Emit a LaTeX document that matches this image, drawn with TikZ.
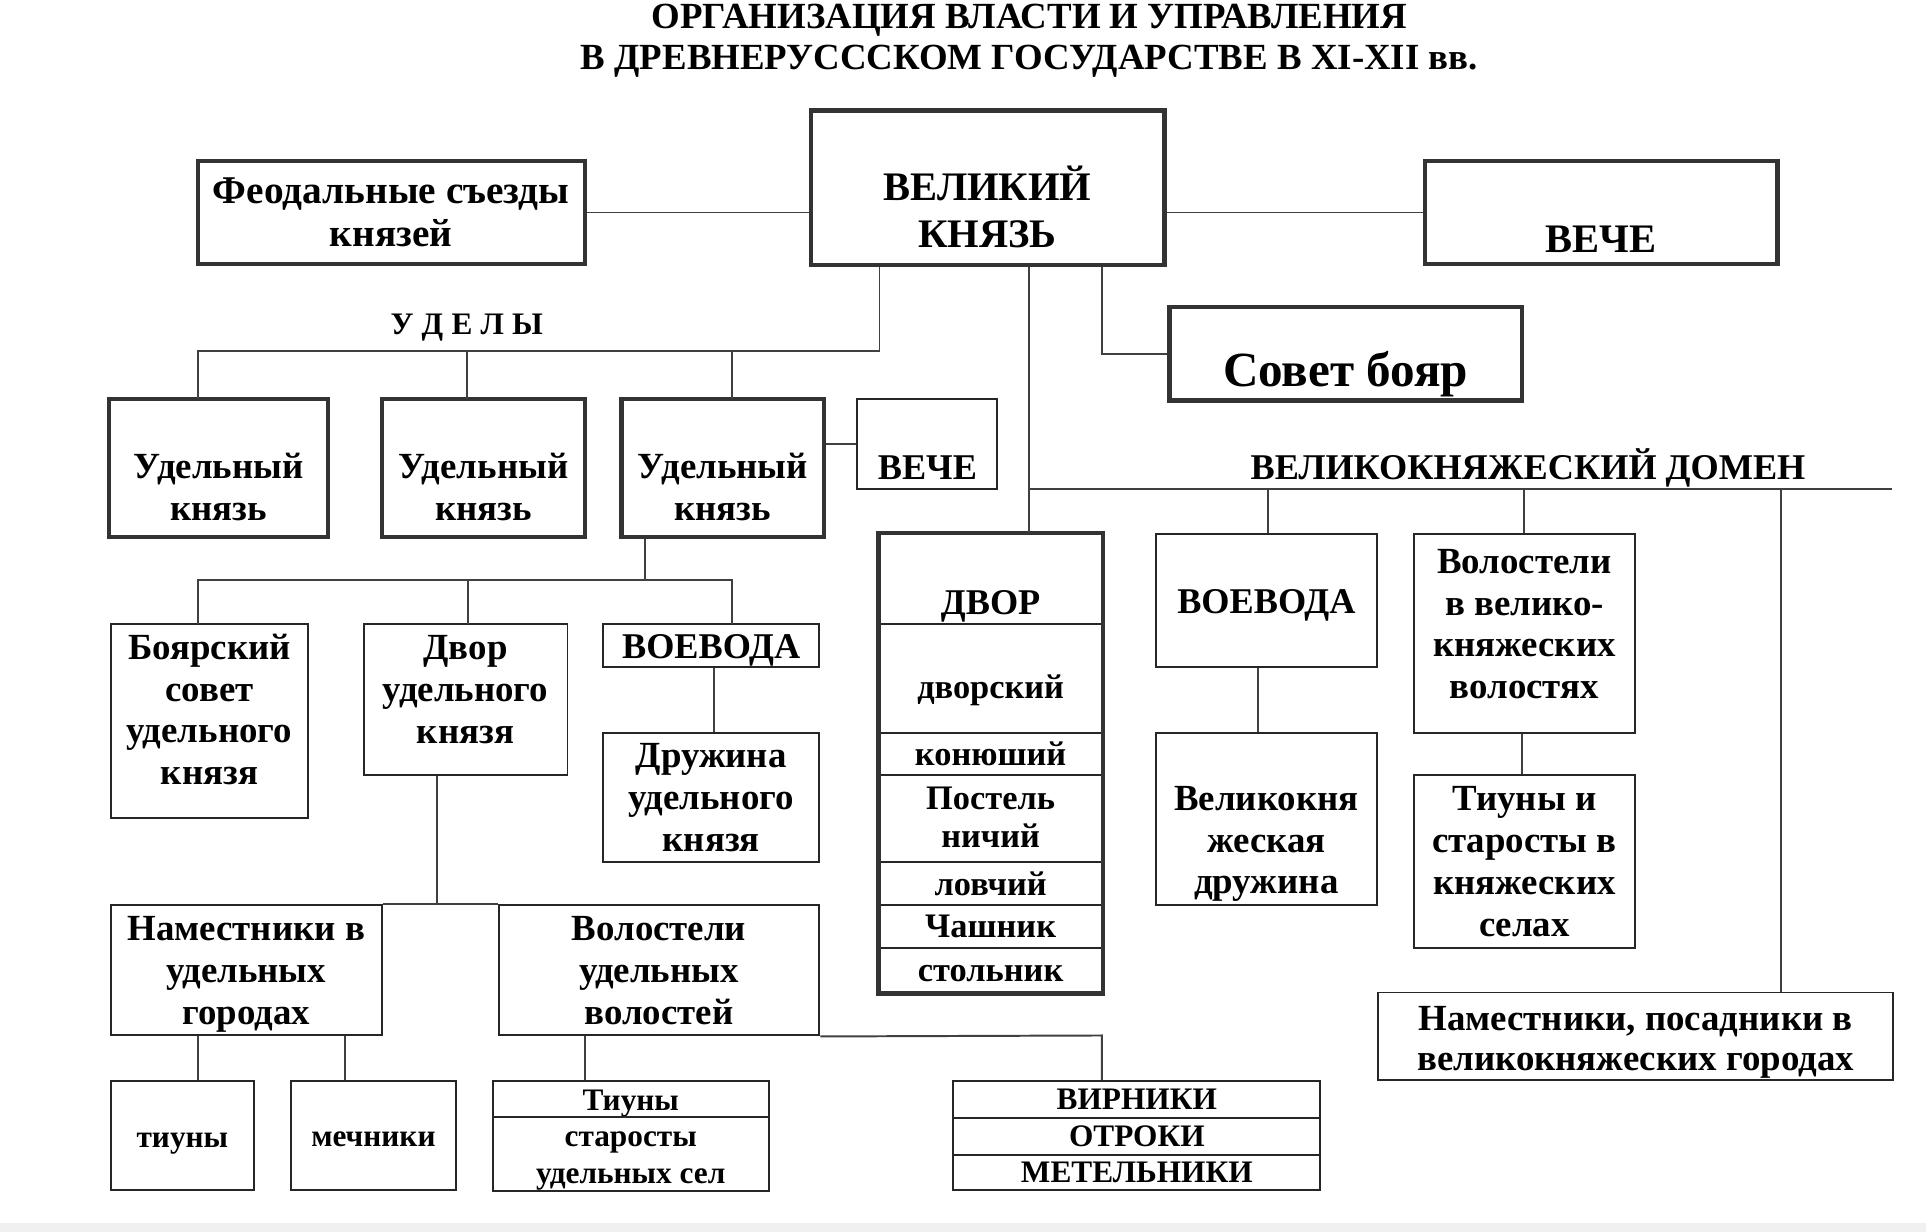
\documentclass[tikz,border=0pt]{standalone}
\usepackage{fontspec}
\setmainfont{Liberation Serif}
\usetikzlibrary{calc}
\newcommand\fT{\fontsize{30}{33}\selectfont}
\newcommand\fV{\fontsize{33}{38}\selectfont}
\newcommand\fS{\fontsize{40}{40}\selectfont}
\newcommand\fA{\fontsize{30}{34}\selectfont}
\newcommand\fF{\fontsize{32}{35}\selectfont}
\newcommand\fB{\fontsize{29.5}{33}\selectfont}
\newcommand\fL{\fontsize{28}{31}\selectfont}
\newcommand\fC{\fontsize{25.5}{30}\selectfont}
\newcommand\dn[2]{\raisebox{-#1}[\height][\depth]{\begin{tabular}{@{}c@{}}#2\end{tabular}}}
\begin{document}
\begin{tikzpicture}[x=1pt,y=-1pt,
  tbox/.style={draw=black!80, line width=3.5pt, fill=white, inner sep=0pt, align=center, font=\bfseries\fA},
  box/.style={draw=black!85, line width=1.6pt, fill=white, inner sep=0pt, align=center, font=\bfseries\fA},
  ln/.style={draw=black!75, line width=1.6pt},
  lbl/.style={inner sep=0pt, align=center, font=\bfseries\fA},
  sz/.style n args={2}{minimum width=#1pt, minimum height=#2pt}]
\useasboundingbox (0,0) rectangle (1568,1003);
\fill[white] (0,0) rectangle (1568,1003);
\fill[black!6] (0,996) rectangle (1568,1003);

% title
\node[lbl, font=\bfseries\fT] (title) at (838,33) {ОРГАНИЗАЦИЯ ВЛАСТИ И УПРАВЛЕНИЯ\\В ДРЕВНЕРУСССКОМ ГОСУДАРСТВЕ В XI-XII вв.};

% top level
\node[tbox, sz={288}{126}, font=\bfseries\fV] (vk) at (804,153) {\dn{21pt}{ВЕЛИКИЙ\\КНЯЗЬ}};
\node[tbox, sz={315}{84}, font=\bfseries\fF] (fs) at (318.5,173) {Феодальные съезды\\князей};
\node[tbox, sz={287}{84}, font=\bfseries\fV] (vec1) at (1303.5,173) {\dn{25pt}{ВЕЧЕ}};
\node[tbox, sz={287}{76}, font=\bfseries\fS] (sb) at (1095.5,288) {\dn{18pt}{Совет бояр}};

\node[lbl, font=\bfseries\fC] (udely) at (380,267) {У\hspace{6.7pt}Д\hspace{6.7pt}Е\hspace{6.7pt}Л\hspace{6.7pt}Ы};

% udelnye knyazya
\node[tbox, sz={178}{112}] (u1) at (178,381) {\dn{19pt}{Удельный\\князь}};
\node[tbox, sz={165}{112}] (u2) at (393.5,381) {\dn{19pt}{Удельный\\князь}};
\node[tbox, sz={165}{112}] (u3) at (588.5,381) {\dn{19pt}{Удельный\\князь}};
\node[box, sz={114}{73}, font=\bfseries\fB] (vec2) at (755,361.5) {\dn{22pt}{ВЕЧЕ}};

% under u3
\node[box, sz={161}{158}] (bs) at (170.5,587) {\dn{-6pt}{Боярский\\совет\\удельного\\князя}};
\node[box, sz={166}{123}] (dud) at (379,569.5) {\dn{-5pt}{Двор\\удельного\\князя}};
\node[box, sz={176}{35}, font=\bfseries\fB] (voe1) at (579,525.5) {\dn{4pt}{ВОЕВОДА}};
\node[box, sz={176}{105}] (dr1) at (579,649.5) {Дружина\\удельного\\князя};

\node[box, sz={221}{106}] (nam1) at (200.5,790) {\dn{3pt}{Наместники в\\удельных\\городах}};
\node[box, sz={261}{106}] (vol1) at (536.5,790) {Волостели\\удельных\\волостей};

\node[box, sz={117}{89}, font=\bfseries\fC] (tiu) at (148.5,924.5) {\dn{4pt}{тиуны}};
\node[box, sz={134}{89}, font=\bfseries\fC] (mech) at (304,924.5) {\dn{3pt}{мечники}};
\node[box, sz={225}{30}, font=\bfseries\fC] (ts1) at (513.5,895) {\dn{3pt}{Тиуны}};
\node[box, sz={225}{59}, font=\bfseries\fC] (ts2) at (513.5,939.5) {\dn{3pt}{старосты\\удельных сел}};

\node[box, sz={299}{30}, font=\bfseries\fC] (vr1) at (925.5,895) {ВИРНИКИ};
\node[box, sz={299}{30}, font=\bfseries\fC] (vr2) at (925.5,925) {ОТРОКИ};
\node[box, sz={299}{29}, font=\bfseries\fC] (vr3) at (925.5,954.5) {МЕТЕЛЬНИКИ};

% DVOR column
\node[box, sz={181}{73}, font=\bfseries\fB] (dv1) at (806.5,471.5) {\dn{22pt}{ДВОР}};
\node[box, sz={181}{89}, font=\bfseries\fL] (dv2) at (806.5,552.5) {\dn{10pt}{дворский}};
\node[box, sz={181}{34}, font=\bfseries\fL] (dv3) at (806.5,614) {конюший};
\node[box, sz={181}{71}, font=\bfseries\fL] (dv4) at (806.5,666.5) {\dn{2pt}{Постель\\ничий}};
\node[box, sz={181}{35}, font=\bfseries\fL] (dv5) at (806.5,719.5) {ловчий};
\node[box, sz={181}{35}, font=\bfseries\fL] (dv6) at (806.5,754.5) {Чашник};
\node[box, sz={181}{36}, font=\bfseries\fL] (dv7) at (806.5,790) {\dn{3pt}{стольник}};
\draw[draw=black!80, line width=3.5pt] (dv1.north west) rectangle (dv7.south east);

% domain
\node[lbl, font=\bfseries\fB] (domlbl) at (1244,381) {ВЕЛИКОКНЯЖЕСКИЙ ДОМЕН};
\node[box, sz={180}{108}, font=\bfseries\fB] (voe2) at (1031,489) {\dn{4pt}{ВОЕВОДА}};
\node[box, sz={180}{140}] (vkd) at (1031,667) {\dn{20pt}{Великокня\\жеская\\дружина}};
\node[box, sz={180}{162}] (volv) at (1241,516) {\dn{-5pt}{Волостели\\в велико-\\княжеских\\волостях}};
\node[box, sz={180}{141}] (tsk) at (1241,701.5) {Тиуны и\\старосты в\\княжеских\\селах};
\node[box, sz={419}{71}, font=\bfseries\fontsize{30}{33}\selectfont] (namp) at (1331.5,843.5) {\dn{5pt}{Наместники, посадники в\\великокняжеских городах}};

% connectors
\coordinate (jU) at (716,286);
\coordinate (jS) at (897,288);
\coordinate (jD) at (838,398);
\coordinate (dEnd) at (1540,398);
\draw[ln] (fs.east) -- (fs.east -| vk.west);
\draw[ln] (vk.east |- vec1.west) -- (vec1.west);
\draw[ln] (vk.south -| jU) -- (jU) -- (161,286) -- (161,325);
\draw[ln] (380,286) -- (380,325);
\draw[ln] (596,286) -- (596,325);
\draw[ln] (vk.south -| jS) -- (jS) -- (sb.west |- jS);
\draw[ln] (vk.south -| jD) -- (dv1.north -| jD);
\draw[ln] (jD) -- (dEnd);
\draw[ln] (1032,398) -- (voe2.north -| 1032,0);
\draw[ln] (1241,398) -- (volv.north);
\draw[ln] (1450,398) -- (namp.north -| 1450,0);
\draw[ln] (voe2.south -| 1024,0) -- (vkd.north -| 1024,0);
\draw[ln] (volv.south -| 1239,0) -- (tsk.north -| 1239,0);
\draw[ln] (u3.east |- vec2.west) -- (vec2.west);
\draw[ln] (u3.south -| 525,0) -- (525,472);
\draw[ln] (161,508) -- (161,472) -- (596,472) -- (596,508);
\draw[ln] (381,472) -- (381,508);
\draw[ln] (voe1.south -| 581,0) -- (dr1.north -| 581,0);
\draw[ln] (dud.south -| 356,0) -- (356,737);
\draw[ln] (nam1.north east) -- (vol1.north west);
\draw[ln] (nam1.south -| 161,0) -- (tiu.north -| 161,0);
\draw[ln] (nam1.south -| 281,0) -- (mech.north -| 281,0);
\draw[ln] (vol1.south -| 476,0) -- (ts1.north -| 476,0);
\draw[ln] (vol1.south east) -- (897,843) -- (vr1.north -| 897,0);
\end{tikzpicture}
\end{document}
